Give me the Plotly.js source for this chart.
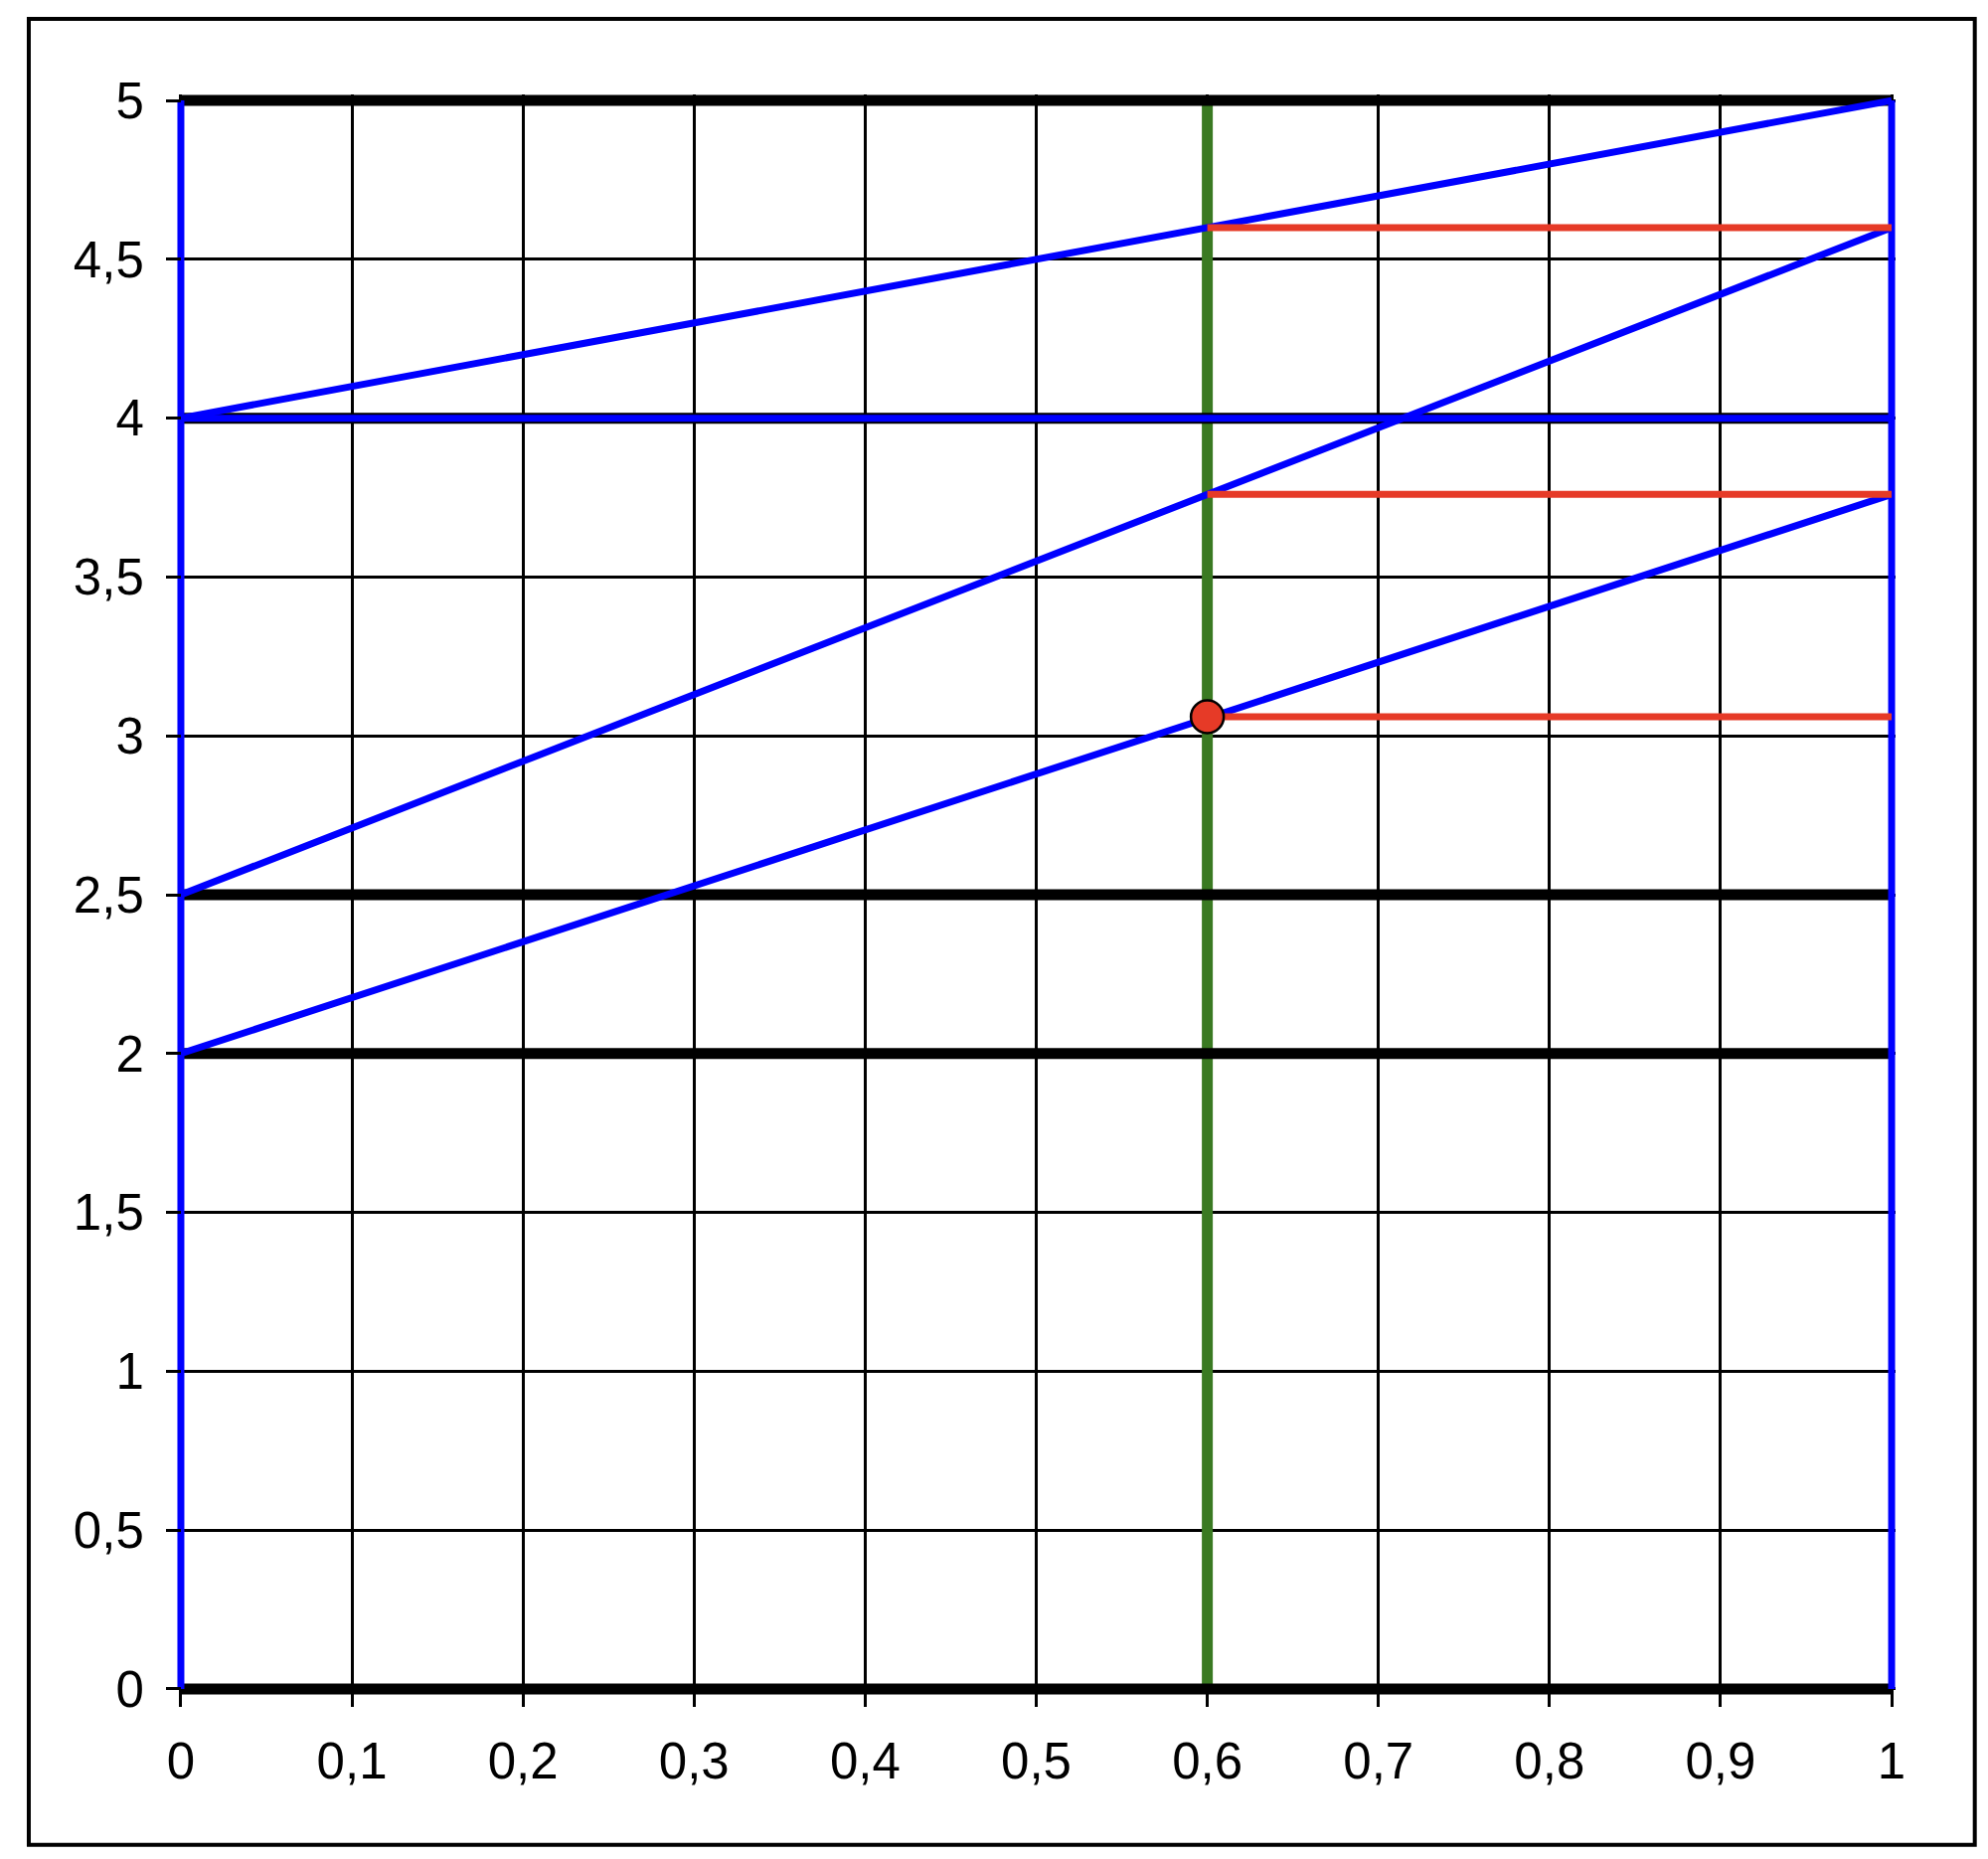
<!DOCTYPE html>
<html>
<head>
<meta charset="utf-8">
<script src="https://cdn.plot.ly/plotly-3.0.1.min.js"></script>
<style>
  html, body { margin: 0; padding: 0; background: #ffffff; }
  #chart { width: 2000px; height: 1870px; }
</style>
</head>
<body>
<div id="chart"></div>
<script>
// ---- data ----
const xTickVals = [0, 0.1, 0.2, 0.3, 0.4, 0.5, 0.6, 0.7, 0.8, 0.9, 1];
const xTickText = ["0", "0,1", "0,2", "0,3", "0,4", "0,5", "0,6", "0,7", "0,8", "0,9", "1"];
const yTickVals = [0, 0.5, 1, 1.5, 2, 2.5, 3, 3.5, 4, 4.5, 5];
const yTickText = ["0", "0,5", "1", "1,5", "2", "2,5", "3", "3,5", "4", "4,5", "5"];

const thickLevels = [0, 2, 2.5, 4, 5];     // thick black horizontal lines
const boundaryX = [0, 1];                   // blue vertical lines
const yRange = [0, 5];
const lineX = [0, 1];
const topLine = [4, 5];
const midLine = [2.5, 4.6];
const lowLine = [2, 3.76];
const flatLine = [4, 4];
const xStar = 0.6;                          // green vertical line
const redLevels = [4.6, 3.76, 3.06];        // red horizontal lines from xStar to 1
const pointX = [0.6];
const pointY = [3.06];

// ---- styles ----
const BLUE = "#0000ff";
const RED = "#e63a27";
const GREEN = "#3a7a22";
const FONT = "Liberation Sans, Arial, sans-serif";

const traces = [];
const base = { mode: "lines", showlegend: false, hoverinfo: "skip" };

// green vertical
traces.push(Object.assign({}, base, { x: [xStar, xStar], y: yRange, line: { color: GREEN, width: 11 } }));

// thick black horizontals
thickLevels.forEach(v => {
  traces.push(Object.assign({}, base, { x: lineX, y: [v, v], line: { color: "#000000", width: 11 } }));
});

// blue verticals
boundaryX.forEach(v => {
  traces.push(Object.assign({}, base, { x: [v, v], y: yRange, line: { color: BLUE, width: 7 } }));
});

// blue lines
[topLine, midLine, lowLine, flatLine].forEach(ys => {
  traces.push(Object.assign({}, base, { x: lineX, y: ys, line: { color: BLUE, width: 7 } }));
});

// red horizontals
redLevels.forEach(v => {
  traces.push(Object.assign({}, base, { x: [xStar, 1], y: [v, v], line: { color: RED, width: 7 } }));
});

// red point
traces.push({
  x: pointX, y: pointY, mode: "markers", showlegend: false, hoverinfo: "skip",
  marker: { size: 33, color: RED, line: { color: "#000000", width: 2.5 } }
});

const xpad = 0.0023;
const ypad = 0.019;

const layout = {
  width: 2000, height: 1870, autosize: false,
  paper_bgcolor: "#ffffff", plot_bgcolor: "#ffffff",
  margin: { l: 178, r: 93, t: 95, b: 165, pad: 0 },
  separators: ", ",
  font: { family: FONT, size: 51, color: "#000000" },
  xaxis: {
    range: [-xpad, 1 + xpad],
    tickvals: xTickVals, ticktext: xTickText,
    showgrid: true, gridcolor: "#000000", gridwidth: 3,
    zeroline: false, showline: false,
    ticks: "outside", ticklen: 17, tickwidth: 3, tickcolor: "#000000",
    ticklabelstandoff: 11,
    anchor: "free", position: ypad / (5 + 2 * ypad),
    tickfont: { family: FONT, size: 51, color: "#000000" },
    fixedrange: true
  },
  yaxis: {
    range: [-ypad, 5 + ypad],
    tickvals: yTickVals, ticktext: yTickText,
    showgrid: true, gridcolor: "#000000", gridwidth: 3,
    zeroline: false, showline: false,
    ticks: "outside", ticklen: 15, tickwidth: 3, tickcolor: "#000000",
    ticklabelstandoff: 12,
    anchor: "free", position: xpad / (1 + 2 * xpad),
    tickfont: { family: FONT, size: 51, color: "#000000" },
    fixedrange: true
  },
  shapes: [
    {
      type: "rect", xref: "paper", yref: "paper", layer: "below",
      x0: -0.0862, x1: 1.0461, y0: -0.0936, y1: 1.0472,
      line: { color: "#000000", width: 4 }, fillcolor: "rgba(0,0,0,0)"
    }
  ]
};

Plotly.newPlot("chart", traces, layout, { displayModeBar: false, staticPlot: true });
</script>
</body>
</html>
